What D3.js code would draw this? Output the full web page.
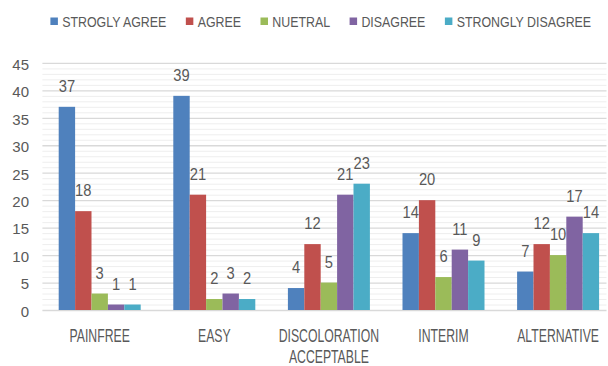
<!DOCTYPE html>
<html>
<head>
<meta charset="utf-8">
<script src="https://cdn.jsdelivr.net/npm/d3@7"></script>
<style>
  html, body { margin: 0; padding: 0; background: #ffffff; }
  svg { display: block; }
  text { font-family: "Liberation Sans", Arial, sans-serif; fill: #595959; }
</style>
</head>
<body>
<svg id="chart" width="608" height="366"></svg>
<script>
// Survey responses per statement
const categories = ["PAINFREE", "EASY", "DISCOLORATION ACCEPTABLE", "INTERIM", "ALTERNATIVE"];
const seriesNames = ["STROGLY AGREE", "AGREE", "NUETRAL", "DISAGREE", "STRONGLY DISAGREE"];
const stronglyAgree = [37, 39, 4, 14, 7];
const agree = [18, 21, 12, 20, 12];
const neutral = [3, 2, 5, 6, 10];
const disagree = [1, 3, 21, 11, 17];
const stronglyDisagree = [1, 2, 23, 9, 14];
const yTicks = [0, 5, 10, 15, 20, 25, 30, 35, 40, 45];
const colors = ["#4F81BD", "#C0504D", "#9BBB59", "#8064A2", "#4BACC6"];

const seriesValues = [stronglyAgree, agree, neutral, disagree, stronglyDisagree];

const svg = d3.select("#chart");

const plotLeft = 42.4, plotRight = 615.4, gridRight = 606.5;
const plotTop = 62.9, plotBottom = 310;

const y = d3.scaleLinear().domain([0, 45]).range([plotBottom, plotTop]);
const x0 = d3.scaleBand().domain(categories).range([plotLeft, plotRight])
  .paddingInner(0.2845).paddingOuter(0.14225);
const x1 = d3.scaleBand().domain(seriesNames).range([0, x0.bandwidth()]).padding(0);

// Minor gridlines (every unit)
const minorVals = d3.range(0, 46).filter(v => v % 5 !== 0);
svg.append("g")
  .attr("transform", `translate(${plotLeft},0)`)
  .call(d3.axisLeft(y).tickValues(minorVals).tickSize(-(gridRight - plotLeft)).tickFormat(""))
  .call(g => g.select(".domain").remove())
  .call(g => g.selectAll("line").attr("stroke", "#eeeeee").attr("stroke-width", 1));

// Major gridlines
svg.append("g")
  .attr("transform", `translate(${plotLeft},0)`)
  .call(d3.axisLeft(y).tickValues(yTicks).tickSize(-(gridRight - plotLeft)).tickFormat(""))
  .call(g => g.select(".domain").remove())
  .call(g => g.selectAll("line").attr("stroke", "#d9d9d9").attr("stroke-width", 1.3));

// Y axis labels
svg.append("g")
  .attr("transform", "translate(29,0)")
  .call(d3.axisLeft(y).tickValues(yTicks).tickSize(0).tickPadding(0))
  .call(g => g.select(".domain").remove())
  .call(g => g.selectAll("text")
    .attr("dy", null)
    .attr("y", 6.3)
    .attr("x", 0)
    .style("font-size", "15px")
    .attr("fill", "#595959"));

// Bars
const groups = svg.append("g").selectAll("g")
  .data(categories)
  .join("g")
  .attr("transform", d => `translate(${x0(d)},0)`);

groups.selectAll("rect")
  .data((c, ci) => seriesNames.map((s, si) => ({ s, si, v: seriesValues[si][ci] })))
  .join("rect")
  .attr("x", d => x1(d.s))
  .attr("y", d => y(d.v))
  .attr("width", x1.bandwidth())
  .attr("height", d => y(0) - y(d.v))
  .attr("fill", d => colors[d.si]);

// Data labels
groups.selectAll("text.val")
  .data((c, ci) => seriesNames.map((s, si) => ({ s, si, v: seriesValues[si][ci] })))
  .join("text")
  .attr("class", "val")
  .attr("transform", d => `translate(${x1(d.s) + x1.bandwidth() / 2},${y(d.v) - 15}) scale(0.92,1)`)
  .attr("text-anchor", "middle")
  .style("font-size", "16px")
  .text(d => d.v);

// Category labels (horizontally condensed)
const catG = svg.append("g").selectAll("text")
  .data(categories)
  .join("text")
  .attr("transform", d => `translate(${x0(d) + x0.bandwidth() / 2},342) scale(0.7,1)`)
  .attr("text-anchor", "middle")
  .style("font-size", "17.5px");
catG.selectAll("tspan")
  .data(d => d.split(" "))
  .join("tspan")
  .attr("x", 0)
  .attr("y", (d, i) => i * 21.5)
  .text(d => d);

// Legend
const legend = svg.append("g");
const legendScale = 0.8;
let lx = 50.4;
seriesNames.forEach((name, i) => {
  legend.append("rect")
    .attr("x", lx).attr("y", 17.5)
    .attr("width", 7.5).attr("height", 7.5)
    .attr("fill", colors[i]);
  const t = legend.append("text")
    .attr("transform", `translate(${lx + 11.8},26.6) scale(${legendScale},1)`)
    .style("font-size", "15.5px")
    .text(name);
  const w = t.node().getComputedTextLength() * legendScale;
  lx += 11.8 + w + 19.5;
});
</script>
</body>
</html>
